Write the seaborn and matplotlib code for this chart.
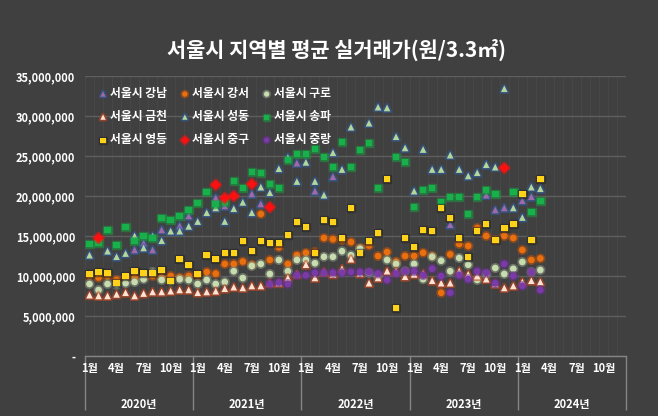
import numpy as np
import pandas as pd
import matplotlib
matplotlib.use("Agg")
import matplotlib.pyplot as plt
import matplotlib.patheffects as pe
from matplotlib.ticker import FuncFormatter
import seaborn as sns

nan = np.nan

# 2020년 1월 ~ 2024년 3월, 월별 평균 실거래가 (백만원/3.3㎡)
years = ["2020년", "2021년", "2022년", "2023년", "2024년"]
month_labels = ["1월", "4월", "7월", "10월"]
months = list(range(51))

gangnam = [nan, nan, nan, nan, nan, 13.25, 14.1, 13.25, 15.75, nan,
           16.25, 17.5, nan, nan, 19.75, 18.75, nan, nan, 20.25, 19.0,
           nan, nan, nan, 24.1, nan, 20.6, nan, 22.4, nan, nan,
           nan, nan, nan, nan, nan, nan, nan, nan, nan, nan,
           16.4, nan, nan, nan, 20.1, 18.25, 18.5, nan, 19.4, 19.9,
           nan]
gangseo = [10.0, 9.8, 10.0, 9.5, 9.8, 9.8, 9.9, 10.0, 9.8, 10.0,
           9.8, 10.0, 10.1, 10.5, 10.3, 11.5, 11.5, 11.8, 11.4, 17.75,
           12.0, 13.6, 11.5, 12.6, 12.9, 13.0, 14.75, 14.6, 14.5, 14.25,
           13.5, 13.8, 12.5, 13.0, 11.8, 12.5, 12.5, 12.9, 12.5, 7.9,
           12.7, 14.0, 13.75, 16.0, 15.0, 14.5, 15.0, 14.75, 13.25, 12.0,
           12.2]
guro = [9.0, 8.25, 9.0, 8.9, 9.1, 9.25, 9.6, 10.5, 9.5, 9.3,
        9.6, 9.5, 9.0, 9.5, 9.0, 9.25, 10.6, 9.75, 11.25, 11.5,
        10.25, 12.0, 10.6, 12.0, 12.0, 11.6, 12.4, 12.4, 13.1, 12.6,
        13.4, 10.4, 10.0, 12.0, 11.5, 10.6, 11.5, 9.6, 12.4, 11.9,
        10.6, 12.25, 11.4, 9.5, 10.2, 11.0, 10.25, 10.9, 11.75, 10.5,
        10.75]
geumcheon = [7.6, 7.5, 7.5, 7.7, 7.9, 7.5, 7.8, 8.0, 8.0, 8.1,
             8.25, 8.25, 7.9, 8.0, 8.1, 8.4, 8.6, 8.5, 8.75, 8.75,
             9.1, 9.1, 9.75, 10.2, 11.4, 9.75, 10.5, 10.2, 10.9, 12.1,
             10.3, 9.1, 9.75, 10.6, 10.6, 9.9, 10.2, 10.3, 9.4, 9.1,
             9.1, 10.6, 10.2, 10.0, 9.6, 9.0, 8.5, 8.75, 9.25, 9.4,
             9.25]
seongdong = [12.6, nan, 13.1, 12.4, 12.8, 15.0, 13.5, 15.0, 14.4, 15.6,
             15.6, 16.2, 16.8, 17.9, 18.5, 16.8, 18.4, 19.2, 17.9, 21.1,
             20.4, 23.4, 24.8, 21.8, 24.2, 21.8, 20.1, 25.4, 23.3, 28.6,
             nan, 29.1, 31.1, 31.0, 27.4, 26.0, 20.6, 25.8, 23.3, 23.3,
             25.1, 23.3, 22.5, 22.9, 23.9, 23.6, 33.4, 18.5, 17.3, 21.1,
             20.9]
songpa = [14.0, 14.1, 15.75, 13.9, 16.1, 14.4, 15.0, 14.75, 17.25, 17.0,
          17.5, 18.25, 19.1, 20.5, 19.0, 19.3, 21.9, 21.0, 23.0, 22.9,
          21.5, 21.0, 24.5, 25.25, 25.25, 25.9, 24.9, 23.6, 26.75, 23.6,
          25.75, 26.6, 21.0, nan, 24.9, 24.25, 18.6, 20.75, 21.0, 19.25,
          19.9, 19.9, 17.75, 19.9, 20.75, 20.25, nan, 20.5, nan, 18.0,
          19.4]
yeongdeung = [10.25, 10.5, 10.4, 9.1, 10.0, 10.6, 10.4, 10.4, 10.75, 9.4,
              12.1, 11.4, 10.25, 12.6, 12.1, 12.9, 12.9, 14.4, 13.1, 14.4,
              14.1, 14.1, 15.1, 16.75, 16.1, 12.9, 17.0, 16.75, 14.75, 18.5,
              12.9, 14.4, 15.4, 22.1, 6.0, 14.75, 13.6, 15.75, 15.6, 18.5,
              17.25, 14.75, 12.4, 15.6, 16.5, 14.5, 16.0, 16.5, 20.25, 14.5,
              22.1]
junggu = [nan, 14.75, nan, nan, nan, nan, nan, nan, nan, nan,
          nan, nan, nan, nan, 21.4, 19.75, 20.0, nan, 21.5, nan,
          18.6, nan, nan, nan, nan, nan, nan, nan, nan, nan,
          nan, nan, nan, nan, nan, nan, nan, nan, nan, nan,
          nan, nan, nan, nan, nan, nan, 23.5, nan, nan, nan,
          nan]
jungnang = [nan, nan, nan, nan, nan, nan, nan, nan, nan, nan,
            nan, nan, nan, nan, nan, nan, nan, nan, nan, nan,
            9.0, 9.2, 9.0, 10.1, 10.1, 10.4, 10.4, 10.4, 10.4, 10.5,
            10.5, 10.5, 10.3, 9.5, 10.3, 10.6, 10.6, 10.1, 10.9, 10.0,
            7.9, 10.1, 9.6, 10.6, 10.4, 9.1, 11.5, 10.0, 8.75, 10.5,
            8.25]

series = {
    "서울시 강남": gangnam, "서울시 강서": gangseo, "서울시 구로": guro,
    "서울시 금천": geumcheon, "서울시 성동": seongdong, "서울시 송파": songpa,
    "서울시 영등": yeongdeung, "서울시 중구": junggu, "서울시 중랑": jungnang,
}

# 마커 모양 / 채움색 / 글로우색
styles = {
    "서울시 강남": ("^", "#a06aa8", "#2e5fa8"),
    "서울시 강서": ("o", "#e8700f", "#c0500a"),
    "서울시 구로": ("o", "#c9dcb0", "#8a9a80"),
    "서울시 금천": ("^", "#fbe3d6", "#d0451a"),
    "서울시 성동": ("^", "#b5d69a", "#2e5fa8"),
    "서울시 송파": ("s", "#17b04a", "#1a9a40"),
    "서울시 영등": ("s", "#ffd21a", "#222222"),
    "서울시 중구": ("D", "#ff1010", "#ff1010"),
    "서울시 중랑": ("o", "#7a3aa8", "#6a3090"),
}

rows = []
for name, vals in series.items():
    for m, v in zip(months, vals):
        rows.append({"month": m, "price": v * 1e6, "district": name})
df = pd.DataFrame(rows).dropna()

bg = "#404040"
sns.set_style("dark", {"axes.facecolor": bg, "figure.facecolor": bg})
plt.rcParams['font.family'] = ['Noto Sans CJK KR', 'DejaVu Sans']

fig = plt.figure(figsize=(6.58, 4.16), dpi=100)
ax = fig.add_axes([85 / 658, 60 / 416, 541 / 658, 280 / 416])

for name in series:
    marker, face, glow = styles[name]
    sub = df[df["district"] == name]
    sns.scatterplot(data=sub, x="month", y="price", ax=ax, marker=marker,
                    color=face, s=22, linewidth=0, label=name, zorder=3)
    ax.collections[-1].set_path_effects(
        [pe.Stroke(linewidth=2.5, foreground=glow, alpha=0.55), pe.Normal()])

ax.set_xlim(-0.5, 59.5)
ax.set_ylim(0, 35e6)
ax.set_yticks(np.arange(0, 35e6 + 1, 5e6))
ax.yaxis.set_major_formatter(FuncFormatter(lambda v, p: "-" if v == 0 else f"{int(v):,}"))

tick_pos = [y * 12 + m for y in range(5) for m in (0, 3, 6, 9)]
ax.set_xticks(tick_pos, month_labels * 5)
ax.set_xticks(np.arange(-0.5, 60, 1), minor=True)
ax.set_xlabel("")
ax.set_ylabel("")

ax.grid(False)
ax.yaxis.grid(True, color="#5e5e5e", linewidth=1)
ax.xaxis.grid(True, which="minor", color="#494949", linewidth=0.6)
ax.set_axisbelow(True)
ax.tick_params(axis="both", which="both", length=0, colors="white", labelsize=8)
ax.tick_params(axis="x", pad=4)
ax.tick_params(axis="y", pad=7)
for lab in ax.get_xticklabels() + ax.get_yticklabels():
    lab.set_fontweight("bold")

for side in ["left", "top", "right"]:
    ax.spines[side].set_visible(False)
ax.spines["bottom"].set_color("#858585")
ax.spines["bottom"].set_linewidth(1)

# 연도 구분선과 연도 라벨
sec = ax.secondary_xaxis("bottom")
sec.set_xticks(np.arange(-0.5, 60, 12))
sec.set_xticks(np.arange(5.5, 60, 12), years, minor=True)
sec.tick_params(which="major", length=39, width=1, color="#858585", labelbottom=False)
sec.tick_params(which="minor", length=0, pad=30, labelcolor="white", labelsize=8)
for lab in sec.get_xticklabels(minor=True):
    lab.set_fontweight("bold")
sec.spines["bottom"].set_visible(False)

# 범례: 행 방향 순서
handles, labels = ax.get_legend_handles_labels()
order = [0, 3, 6, 1, 4, 7, 2, 5, 8]
ax.legend([handles[i] for i in order], [labels[i] for i in order], ncol=3,
          loc="upper left", bbox_to_anchor=(0.005, 0.998), frameon=False,
          labelcolor="white", prop={"size": 8.5, "weight": "bold"},
          handletextpad=0.2, handlelength=0.8, columnspacing=1.1,
          labelspacing=0.85, markerscale=0.8)

fig.text(0.512, 0.88, "서울시 지역별 평균 실거래가(원/3.3㎡)", ha="center", va="center",
         fontsize=15, fontweight="bold", color="white")

fig.savefig("out.png", dpi=100, facecolor=bg)
